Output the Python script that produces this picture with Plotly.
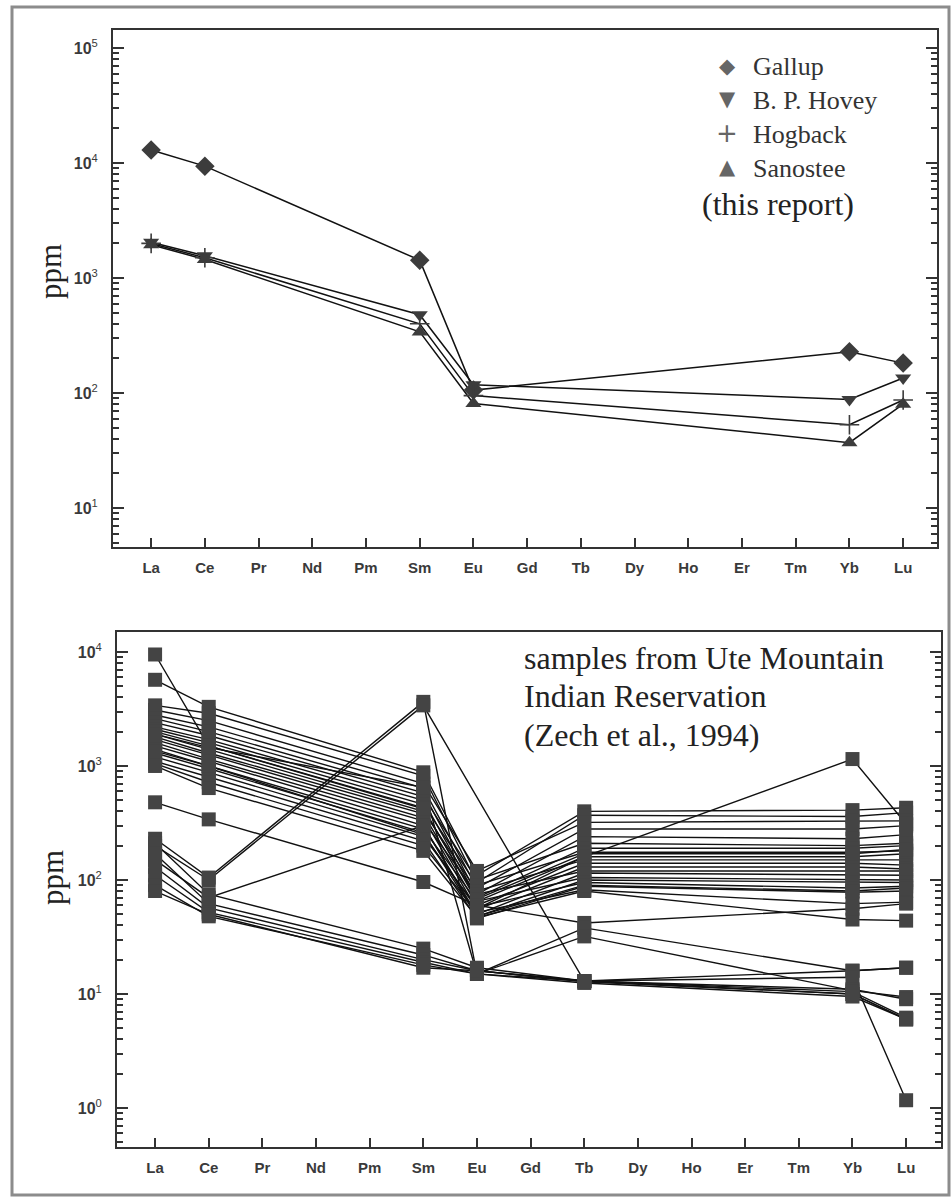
import plotly.graph_objects as go

# ---------------- data ----------------
elements = ["La", "Ce", "Pr", "Nd", "Pm", "Sm", "Eu", "Gd", "Tb", "Dy", "Ho", "Er", "Tm", "Yb", "Lu"]

# top panel (this report)
top_elements = ["La", "Ce", "Sm", "Eu", "Yb", "Lu"]
gallup = [13000, 9400, 1430, 106, 228, 182]
bp_hovey = [2050, 1560, 480, 118, 88, 135]
hogback = [2000, 1500, 400, 95, 53, 87]
sanostee = [1950, 1450, 340, 81, 37, 80]

# bottom panel (Zech et al., 1994) - one value per sample for each element
ute_elements = ["La", "Ce", "Sm", "Eu", "Tb", "Yb", "Lu"]
ute_La = [5700, 3400, 3100, 2800, 2600, 2400, 2200, 2100, 2000, 1900, 1800, 1700, 1600, 1500, 1400, 1300,
          1200, 1100, 1050, 1000, 9500, 1350, 480, 1900, 230, 200, 150, 210, 170, 130, 110, 90, 80]
ute_Ce = [3300, 2900, 2500, 2200, 2000, 1850, 1700, 1600, 1500, 1400, 1300, 1250, 1150, 1100, 1000, 950,
          880, 800, 720, 640, 1500, 1000, 340, 1450, 105, 100, 70, 75, 62, 57, 52, 48, 50]
ute_Sm = [880, 820, 700, 640, 580, 540, 500, 460, 430, 400, 380, 350, 330, 300, 280, 260,
          240, 220, 200, 180, 420, 250, 96, 650, 3650, 3400, 300, 25, 22, 20, 19, 18, 17]
ute_Eu = [110, 95, 120, 85, 75, 100, 70, 90, 65, 80, 60, 55, 75, 50, 65, 48,
          58, 46, 52, 47, 68, 56, 60, 15, 15, None, 48, 17, 16, 16, 15, 15, 16]
ute_Tb = [400, 370, 320, 280, 240, 210, 190, 175, 160, 150, 140, 130, 120, 115, 105, 100,
          95, 88, 82, 80, 170, 160, 42, 38, 32, 13, 90, 13, 13, 13, 12.5, 13, 12.8]
ute_Yb = [410, 360, 330, 280, 230, 200, 190, 175, 160, 150, 140, 130, 120, 110, 100, 95,
          85, 78, 62, 45, 170, 1150, 56, 16, 10.7, 10, 80, 16, 14, 11, 9.5, 10.5, 10]
ute_Lu = [430, 390, 330, 300, 250, 210, 200, 180, 170, 150, 135, 125, 120, 110, 100, 95,
          88, 80, 64, 44, 185, 310, 62, 17, 9.4, 6, 85, 17, 1.17, 9, 6, 6.2, 6]

# ---------------- figure ----------------
W, H = 951, 1197
fig = go.Figure()

LINE = dict(color="#111111", width=1.5)
MK = "#3c3c3c"

top_series = [
    ("Gallup", gallup, dict(symbol="diamond", size=15, color=MK)),
    ("B. P. Hovey", bp_hovey, dict(symbol="triangle-down", size=14, color=MK)),
    ("Hogback", hogback, dict(symbol="cross-thin", size=14, color=MK, line=dict(color=MK, width=1.6))),
    ("Sanostee", sanostee, dict(symbol="triangle-up", size=14, color=MK)),
]
for name, vals, mk in top_series:
    fig.add_trace(go.Scatter(x=top_elements, y=vals, mode="lines", line=LINE,
                             xaxis="x", yaxis="y", showlegend=False, hoverinfo="skip"))
for name, vals, mk in top_series:
    fig.add_trace(go.Scatter(x=top_elements, y=vals, mode="markers", marker=mk, name=name,
                             xaxis="x", yaxis="y", showlegend=False))

n_samples = len(ute_La)
cols = [ute_La, ute_Ce, ute_Sm, ute_Eu, ute_Tb, ute_Yb, ute_Lu]
for i in range(n_samples):
    ys = [c[i] for c in cols]
    fig.add_trace(go.Scatter(x=ute_elements, y=ys, mode="lines", connectgaps=True,
                             line=dict(color="#111111", width=1.4),
                             xaxis="x2", yaxis="y2", showlegend=False, hoverinfo="skip"))
for i in range(n_samples):
    ys = [c[i] for c in cols]
    fig.add_trace(go.Scatter(x=ute_elements, y=ys, mode="markers",
                             marker=dict(symbol="square", size=14, color="#444444"),
                             xaxis="x2", yaxis="y2", showlegend=False))


def px_x(p):
    return p / W


def px_y(p):
    return 1 - p / H


def minor_vals(lo, hi):
    out = []
    for d in range(lo, hi):
        for k in range(2, 10):
            out.append(k * 10 ** d)
    return out


tick_font = dict(family="Liberation Sans, Arial", size=16, color="#3a3a3a")
xlab_font = dict(family="Liberation Sans, Arial", size=15, color="#3a3a3a")
xt = ["<b>%s</b>" % e for e in elements]

common_x = dict(type="category", categoryorder="array", categoryarray=elements,
                tickmode="array", tickvals=elements, ticktext=xt,
                ticks="inside", ticklen=9, tickwidth=2, tickcolor="#333",
                showline=True, linecolor="#333", linewidth=2, mirror=True,
                showgrid=False, zeroline=False, tickfont=xlab_font, ticklabelstandoff=6)


def yaxis_cfg(lo, hi, rng, dom):
    tv = [10 ** d for d in range(lo, hi + 1)]
    tt = ["<b>10</b><sup>%d</sup>" % d for d in range(lo, hi + 1)]
    return dict(type="log", range=rng, domain=dom, tickmode="array", tickvals=tv, ticktext=tt,
                ticks="inside", ticklen=11, tickwidth=2, tickcolor="#333",
                minor=dict(tickvals=minor_vals(lo - 1, hi + 1), ticks="inside", ticklen=6,
                           tickwidth=1.5, tickcolor="#333"),
                showline=True, linecolor="#333", linewidth=2, mirror="ticks",
                showgrid=False, zeroline=False, tickfont=tick_font, ticklabelstandoff=10)


fig.update_layout(
    width=W, height=H,
    margin=dict(l=0, r=0, t=0, b=0),
    paper_bgcolor="white", plot_bgcolor="white",
    xaxis=dict(common_x, domain=[px_x(113), px_x(937)], range=[-0.71, 14.63], anchor="y"),
    yaxis=yaxis_cfg(1, 5, [0.661, 5.157], [px_y(547), px_y(30)]) | dict(anchor="x"),
    xaxis2=dict(common_x, domain=[px_x(117), px_x(941)], range=[-0.71, 14.65], anchor="y2"),
    yaxis2=yaxis_cfg(0, 4, [-0.342, 4.175], [px_y(1147), px_y(632)]) | dict(anchor="x2"),
    showlegend=False,
)

ann = []
serif = "Liberation Serif, Times New Roman, serif"
# ppm titles
ann.append(dict(x=px_x(50), y=px_y(272), xref="paper", yref="paper", text="ppm", textangle=-90,
                xanchor="center", yanchor="middle",
                showarrow=False, font=dict(family=serif, size=31, color="#222")))
ann.append(dict(x=px_x(52), y=px_y(878), xref="paper", yref="paper", text="ppm", textangle=-90,
                xanchor="center", yanchor="middle",
                showarrow=False, font=dict(family=serif, size=31, color="#222")))
# legend (top panel)
leg = [("\u25C6", "Gallup", 66, 67), ("\u25BC", "B. P. Hovey", 99, 100),
       ("+", "Hogback", 133, 135), ("\u25B2", "Sanostee", 167, 168)]
for sym, label, ym, yt in leg:
    ann.append(dict(x=px_x(727), y=px_y(ym), xref="paper", yref="paper", text=sym, showarrow=False,
                    xanchor="center", yanchor="middle",
                    font=dict(family="DejaVu Sans", size=21 if sym != "+" else 26, color="#666")))
    ann.append(dict(x=px_x(751), y=px_y(yt), xref="paper", yref="paper", text=label, showarrow=False,
                    xanchor="left", yanchor="middle", font=dict(family=serif, size=26, color="#333")))
ann.append(dict(x=px_x(700), y=px_y(204), xref="paper", yref="paper", text="(this report)",
                showarrow=False, xanchor="left", yanchor="middle",
                font=dict(family=serif, size=32, color="#222")))
# bottom panel note
for txt, yy in [("samples from Ute Mountain", 658), ("Indian Reservation", 696), ("(Zech et al., 1994)", 735)]:
    ann.append(dict(x=px_x(522), y=px_y(yy), xref="paper", yref="paper", text=txt, showarrow=False,
                    xanchor="left", yanchor="middle", font=dict(family=serif, size=32, color="#222")))
fig.update_layout(annotations=ann)

# outer grey frame
fig.add_shape(type="rect", xref="paper", yref="paper", x0=px_x(12), x1=px_x(949), y0=px_y(1195), y1=px_y(7),
              line=dict(color="#8c8c8c", width=3), fillcolor="rgba(0,0,0,0)", layer="below")

fig.write_html(
    "out.html",
    config={"displayModeBar": False},
    post_script="document.body.style.margin='0';document.body.style.overflow='hidden';",
)
